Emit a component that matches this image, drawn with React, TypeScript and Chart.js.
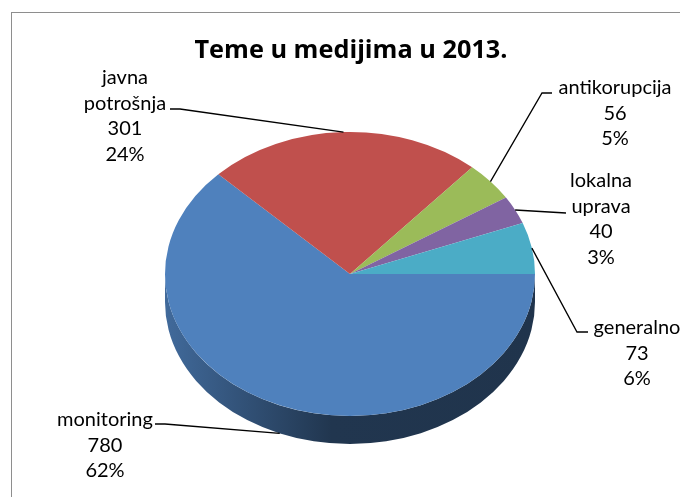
import React, { useEffect, useRef } from "react";
import { Chart, registerables } from "chart.js";

Chart.register(...registerables);

const titleText = "Teme u medijima u 2013.";
const categories = ["monitoring", "javna potrošnja", "antikorupcija", "lokalna uprava", "generalno"];
const values = [780, 301, 56, 40, 73];
const percentLabels = ["62%", "24%", "5%", "3%", "6%"];
const colors = ["#4F81BD", "#C0504D", "#9BBB59", "#8064A2", "#4BACC6"];

// label layout: text center x, first baseline y, elbow point, leader end
const labelLayout = [
  { cx: 105, by: 426, elbow: [165, 424], end: [155, 424] },
  { cx: 125, by: 84, elbow: [180, 109], end: [170, 109] },
  { cx: 615, by: 94, elbow: [542, 93], end: [552, 93] },
  { cx: 601, by: 187, elbow: [566, 213], end: [566, 213] },
  { cx: 637, by: 334, elbow: [577, 332], end: [588, 332] },
];

const TILT = 142 / 185;
const DEPTH = 28;
const FONT = "Lato, 'Open Sans', sans-serif";
const TITLE_FONT = "'Open Sans', Lato, sans-serif";
const TITLE_WIDTH = 313;
const LINE = 25.7;

function shade(hex: string, f: number) {
  const n = parseInt(hex.slice(1), 16);
  const r = Math.round(((n >> 16) & 255) * f);
  const g = Math.round(((n >> 8) & 255) * f);
  const b = Math.round((n & 255) * f);
  return `rgb(${r},${g},${b})`;
}

const pie3d = {
  id: "pie3d",
  beforeDraw(chart: any) {
    const ctx = chart.ctx;
    ctx.save();
    ctx.fillStyle = "#ffffff";
    ctx.fillRect(0, 0, chart.width, chart.height);
    ctx.strokeStyle = "#8e8e8e";
    ctx.lineWidth = 1;
    ctx.strokeRect(11.5, 12.5, 720, 520);
    ctx.fillStyle = "#000";
    ctx.font = `bold 20px ${TITLE_FONT}`;
    const w = ctx.measureText(titleText).width;
    const size = Math.min(26, (20 * TITLE_WIDTH) / w);
    ctx.font = `bold ${size.toFixed(1)}px ${TITLE_FONT}`;
    ctx.textAlign = "center";
    ctx.textBaseline = "alphabetic";
    ctx.fillText(titleText, 351, 58);
    ctx.restore();
  },
  beforeDatasetsDraw(chart: any) {
    const ctx = chart.ctx;
    const meta = chart.getDatasetMeta(0);
    const first = meta.data[0];
    const cx = first.x, cy = first.y;
    const rx = first.outerRadius;
    const ry = rx * TILT;
    ctx.save();
    meta.data.forEach((el: any, i: number) => {
      const ranges = [[0, Math.PI], [2 * Math.PI, 3 * Math.PI]];
      ranges.forEach(([lo, hi]) => {
        const a0 = Math.max(el.startAngle, lo);
        const a1 = Math.min(el.endAngle, hi);
        if (a1 <= a0) return;
        const base = colors[i];
        const grad = ctx.createLinearGradient(cx - rx, 0, cx + rx, 0);
        grad.addColorStop(0, shade(base, 0.82));
        grad.addColorStop(0.45, shade(base, 0.42));
        grad.addColorStop(1, shade(base, 0.4));
        ctx.beginPath();
        ctx.ellipse(cx, cy, rx, ry, 0, a0, a1, false);
        ctx.ellipse(cx, cy + DEPTH, rx, ry, 0, a1, a0, true);
        ctx.closePath();
        ctx.fillStyle = grad;
        ctx.fill();
      });
    });
    ctx.restore();
    ctx.save();
    ctx.translate(cx, cy);
    ctx.scale(1, TILT);
    ctx.translate(-cx, -cy);
  },
  afterDatasetsDraw(chart: any) {
    chart.ctx.restore();
  },
  afterDraw(chart: any) {
    const ctx = chart.ctx;
    const meta = chart.getDatasetMeta(0);
    ctx.save();
    meta.data.forEach((el: any, i: number) => {
      const cx = el.x, cy = el.y;
      const rx = el.outerRadius, ry = rx * TILT;
      const mid = (el.startAngle + el.endAngle) / 2;
      let ax = cx + rx * Math.cos(mid);
      let ay = cy + ry * Math.sin(mid);
      if (Math.sin(mid) > 0) ay += DEPTH;
      const L = labelLayout[i];
      ctx.strokeStyle = "#000";
      ctx.lineWidth = 1.3;
      ctx.beginPath();
      ctx.moveTo(ax, ay);
      ctx.lineTo(L.elbow[0], L.elbow[1]);
      ctx.lineTo(L.end[0], L.end[1]);
      ctx.stroke();
      const lines = [...categories[i].split(" "), String(values[i]), percentLabels[i]];
      ctx.fillStyle = "#000";
      ctx.font = `20px ${FONT}`;
      ctx.textAlign = "center";
      ctx.textBaseline = "alphabetic";
      lines.forEach((t, k) => ctx.fillText(t, L.cx, L.by + k * LINE));
    });
    ctx.restore();
  },
};

export default function App() {
  const ref = useRef<HTMLCanvasElement>(null);
  useEffect(() => {
    document.body.style.margin = "0";
    const chart = new Chart(ref.current!, {
      type: "pie",
      data: {
        labels: categories,
        datasets: [{ data: values, backgroundColor: colors, borderWidth: 0, clip: false } as any],
      },
      options: {
        responsive: false,
        animation: false,
        rotation: 90,
        layout: { padding: { left: 165, right: 145, top: 89, bottom: 38 } },
        plugins: { legend: { display: false }, tooltip: { enabled: false }, title: { display: false } },
      },
      plugins: [pie3d],
    });
    return () => chart.destroy();
  }, []);
  return (
    <div style={{ width: 680, height: 497 }}>
      <canvas ref={ref} width={680} height={497} style={{ display: "block" }} />
    </div>
  );
}
